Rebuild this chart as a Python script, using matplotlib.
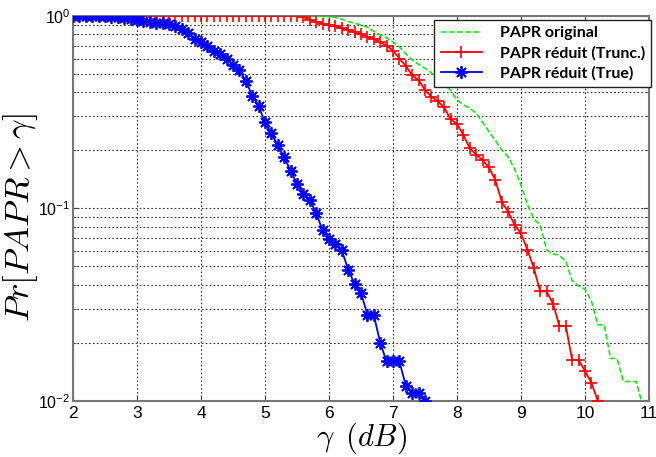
import numpy as np
import matplotlib
matplotlib.use("Agg")
import matplotlib.pyplot as plt
from matplotlib.ticker import LogLocator, NullLocator, FixedLocator

plt.rcParams["font.family"] = ["Liberation Sans", "DejaVu Sans"]
plt.rcParams["mathtext.fontset"] = "cm"

# SNR threshold grid (dB)
gamma_orig = np.round(np.arange(2.0, 10.95, 0.1), 1)
gamma_trunc = np.round(np.arange(2.0, 10.25, 0.1), 1)
gamma_true = np.round(np.arange(2.0, 7.55, 0.1), 1)

# CCDF of the original PAPR
ccdf_orig = [
    1.0, 1.0, 1.0, 1.0, 1.0, 1.0, 1.0, 1.0, 1.0, 1.0,
    1.0, 1.0, 1.0, 1.0, 1.0, 1.0, 1.0, 1.0, 1.0, 1.0,
    1.0, 1.0, 1.0, 1.0, 1.0, 1.0, 1.0, 1.0, 1.0, 1.0,
    1.0, 1.0, 1.0, 1.0, 1.0, 1.0,
    0.998, 0.997, 0.995, 0.993,
    0.99, 0.98, 0.96, 0.935, 0.915, 0.895, 0.875, 0.83, 0.795, 0.77,
    0.73, 0.69, 0.635, 0.59, 0.56, 0.535, 0.505, 0.475, 0.44, 0.41,
    0.365, 0.345, 0.33, 0.312, 0.28, 0.25, 0.225, 0.201, 0.185, 0.16,
    0.132, 0.105, 0.088, 0.082, 0.061, 0.058, 0.057, 0.053, 0.042, 0.0395,
    0.038, 0.033, 0.0248, 0.0248, 0.0166, 0.0166, 0.0126, 0.0126, 0.0126, 0.0095,
]

# CCDF after truncation-based reduction
ccdf_trunc = [
    1.0, 1.0, 1.0, 1.0, 1.0, 1.0, 1.0, 1.0, 1.0, 1.0,
    1.0, 1.0, 1.0, 1.0, 1.0, 1.0, 1.0, 1.0, 1.0, 1.0,
    1.0, 1.0, 1.0, 1.0, 1.0, 1.0, 1.0, 1.0, 1.0, 1.0,
    1.0, 1.0, 1.0, 1.0, 1.0, 1.0,
    0.985, 0.955, 0.93, 0.91,
    0.895, 0.885, 0.86, 0.84, 0.82, 0.80, 0.775, 0.76, 0.73, 0.70,
    0.66, 0.60, 0.55, 0.49, 0.464, 0.412, 0.38, 0.36, 0.335, 0.29,
    0.275, 0.24, 0.205, 0.19, 0.178, 0.163, 0.14, 0.108, 0.096, 0.082,
    0.074, 0.061, 0.049, 0.037, 0.037, 0.032, 0.0245, 0.0245, 0.0163, 0.0163,
    0.0143, 0.0124, 0.0100,
]

# CCDF after the "True" reduction scheme
ccdf_true = [
    1.0, 1.0, 1.0, 0.998, 0.996, 0.993, 0.99, 0.983, 0.975, 0.965,
    0.955, 0.945, 0.932, 0.922, 0.913, 0.905, 0.88, 0.855, 0.815, 0.76,
    0.728, 0.695, 0.66, 0.636, 0.6, 0.555, 0.52, 0.46, 0.385, 0.34,
    0.28, 0.245, 0.212, 0.184, 0.157, 0.134, 0.119, 0.111, 0.094, 0.077,
    0.069, 0.065, 0.0605, 0.048, 0.0405, 0.0363, 0.028, 0.028, 0.020, 0.016,
    0.016, 0.016, 0.012, 0.011, 0.011, 0.010,
]

legend_labels = ["PAPR original", "PAPR réduit (Trunc.)", "PAPR réduit (True)"]
x_ticks = [2, 3, 4, 5, 6, 7, 8, 9, 10, 11]
y_ticks = [1e-2, 1e-1, 1e0]
y_tick_labels = [r"$\mathregular{10^{-2}}$", r"$\mathregular{10^{-1}}$", r"$\mathregular{10^{0}}$"]

fig = plt.figure(figsize=(6.56, 4.57), dpi=100)
ax = fig.add_axes([0.1113, 0.123, 0.878, 0.8424])

# asterisk marker: eight spokes, like a '+' over an 'x'
asterisk = (8, 2, 0)

ax.semilogy(gamma_orig, ccdf_orig, linestyle="--", color="#00ee00", lw=1.1,
            label=legend_labels[0], zorder=3)
ax.semilogy(gamma_trunc, ccdf_trunc, linestyle="-", color="#ff0000", lw=1.3,
            marker="+", markersize=9, markeredgewidth=1.2,
            label=legend_labels[1], zorder=4)
ax.semilogy(gamma_true, ccdf_true, linestyle="-", color="#0000ff", lw=1.3,
            marker=asterisk, markersize=9, markeredgewidth=1.3,
            label=legend_labels[2], zorder=5)

ax.set_xlim(2, 11)
ax.set_ylim(1e-2, 1)
ax.set_xticks(x_ticks)
ax.set_xticklabels([str(t) for t in x_ticks])
ax.xaxis.set_minor_locator(NullLocator())
ax.yaxis.set_major_locator(FixedLocator(y_ticks))
ax.set_yticklabels(y_tick_labels)
ax.yaxis.set_minor_locator(LogLocator(base=10, subs=np.arange(2, 10)))
ax.yaxis.set_minor_formatter(plt.NullFormatter())

grid_style = dict(color="#333333", linestyle=(0, (1.5, 2)), linewidth=0.8)
ax.grid(True, which="major", axis="both", **grid_style)
ax.grid(True, which="minor", axis="y", **grid_style)
ax.set_axisbelow(True)

ax.tick_params(which="both", direction="in", top=True, right=True,
               labelsize=12.5, colors="#444444", labelcolor="black")
ax.tick_params(axis="y", which="major", labelsize=11.5, pad=2)
ax.tick_params(which="major", length=4)
ax.tick_params(which="minor", length=2)
for s in ax.spines.values():
    s.set_color("#777777")
    s.set_linewidth(1.5)

ax.set_xlabel(r"$\gamma\ \,(dB)$", fontsize=22)
ax.xaxis.set_label_coords(0.5, -0.05)
ax.set_ylabel(r"$Pr[PAPR > \gamma]$", fontsize=25)
ax.yaxis.set_label_coords(-0.058, 0.477)

leg = ax.legend(loc="upper right", bbox_to_anchor=(1.004, 0.99),
                prop={"family": "Lato", "weight": "bold", "size": 11.5},
                frameon=True, fancybox=False, framealpha=1.0,
                edgecolor="#222222", handlelength=2.6, handletextpad=1.1,
                borderpad=0.4, labelspacing=0.35, borderaxespad=0.0)
leg.get_frame().set_linewidth(1.0)

fig.savefig("out.png", dpi=100)
